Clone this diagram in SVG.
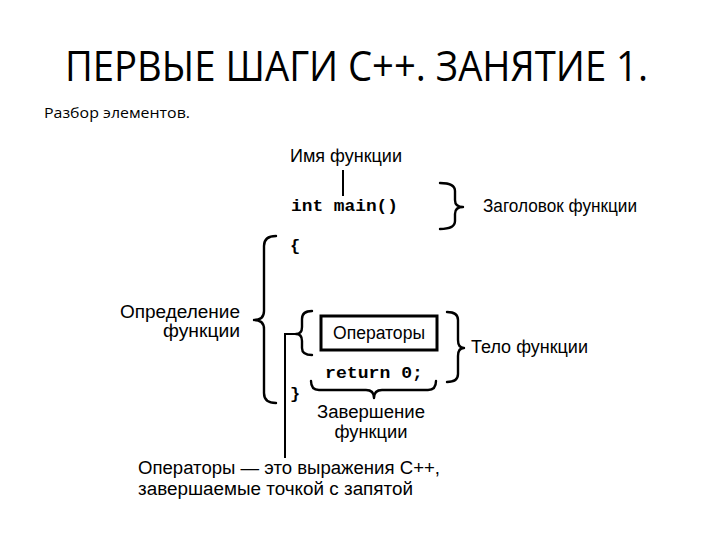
<svg xmlns="http://www.w3.org/2000/svg" width="720" height="540" viewBox="0 0 720 540">
<style>
.title{font-family:"Open Sans","Noto Sans","Liberation Sans",sans-serif;font-size:42px;fill:#000}
.sub{font-family:"Open Sans","Noto Sans","Liberation Sans",sans-serif;font-size:14px;fill:#000}
.lbl{font-family:"Liberation Sans",Arial,sans-serif;font-size:18px;fill:#000}
.code{font-family:"Liberation Mono","Courier New",monospace;font-size:17px;font-weight:bold;fill:#000}
.br{fill:none;stroke:#000;stroke-width:2.4;stroke-linejoin:round;stroke-linecap:round}
.ln{fill:none;stroke:#000;stroke-width:2}
</style>
<rect width="720" height="540" fill="#fff"/>
<text class="title" x="65" y="81" textLength="583" lengthAdjust="spacingAndGlyphs">ПЕРВЫЕ ШАГИ С++. ЗАНЯТИЕ 1.</text>
<text class="sub" x="44" y="118" textLength="146" lengthAdjust="spacingAndGlyphs">Разбор элементов.</text>

<g id="connectors">
  <path class="ln" d="M343,170 V196"/>
  <path class="ln" d="M296,334 H285 V458"/>
</g>

<g id="func-name">
  <text class="lbl" x="290" y="162" textLength="112" lengthAdjust="spacingAndGlyphs">Имя функции</text>
</g>
<g id="header">
  <text class="code" x="291" y="211" textLength="107" lengthAdjust="spacingAndGlyphs">int main()</text>
  <path class="br" d="M440,183 Q455,183 455,191 L455,200 Q455,207 463,207 Q455,207 455,214 L455,221 Q455,229 440,229"/>
  <text class="lbl" x="483" y="212" textLength="154" lengthAdjust="spacingAndGlyphs">Заголовок функции</text>
</g>
<g id="definition">
  <path class="br" d="M276,236 Q264,236 264,246 L264,311 Q264,320 254,320 Q264,320 264,329 L264,393 Q264,403 276,403"/>
  <text class="lbl" x="240" y="318" text-anchor="end" textLength="120" lengthAdjust="spacingAndGlyphs">Определение</text>
  <text class="lbl" x="240" y="337" text-anchor="end" textLength="77" lengthAdjust="spacingAndGlyphs">функции</text>
  <text class="code" x="290" y="251">{</text>
  <text class="code" x="290" y="399">}</text>
</g>
<g id="operators">
  <path class="br" d="M312,311 Q302,311 302,319 L302,327 Q302,334 296,334 Q302,334 302,341 L302,348 Q302,355 312,355"/>
  <rect x="321" y="316" width="116" height="34" fill="#fff" stroke="#000" stroke-width="3"/>
  <text class="lbl" x="379" y="339" text-anchor="middle" textLength="92" lengthAdjust="spacingAndGlyphs">Операторы</text>
</g>
<g id="body">
  <path class="br" d="M447,312 Q458,312 458,320 L458,340 Q458,348 464,348 Q458,348 458,356 L458,374 Q458,382 447,382"/>
  <text class="lbl" x="471" y="353" textLength="117" lengthAdjust="spacingAndGlyphs">Тело функции</text>
</g>
<g id="return">
  <text class="code" x="325" y="378" textLength="98" lengthAdjust="spacingAndGlyphs">return 0;</text>
  <path class="br" d="M311,381 Q311,390 319,390 L366,390 Q374,390 374,398 Q374,390 382,390 L428,390 Q436,390 436,381"/>
  <text class="lbl" x="371" y="418" text-anchor="middle" textLength="108" lengthAdjust="spacingAndGlyphs">Завершение</text>
  <text class="lbl" x="371" y="438" text-anchor="middle" textLength="73" lengthAdjust="spacingAndGlyphs">функции</text>
</g>
<g id="note">
  <text class="lbl" x="138" y="474" textLength="302" lengthAdjust="spacingAndGlyphs">Операторы — это выражения С++,</text>
  <text class="lbl" x="138" y="495" textLength="275" lengthAdjust="spacingAndGlyphs">завершаемые точкой с запятой</text>
</g>
</svg>
